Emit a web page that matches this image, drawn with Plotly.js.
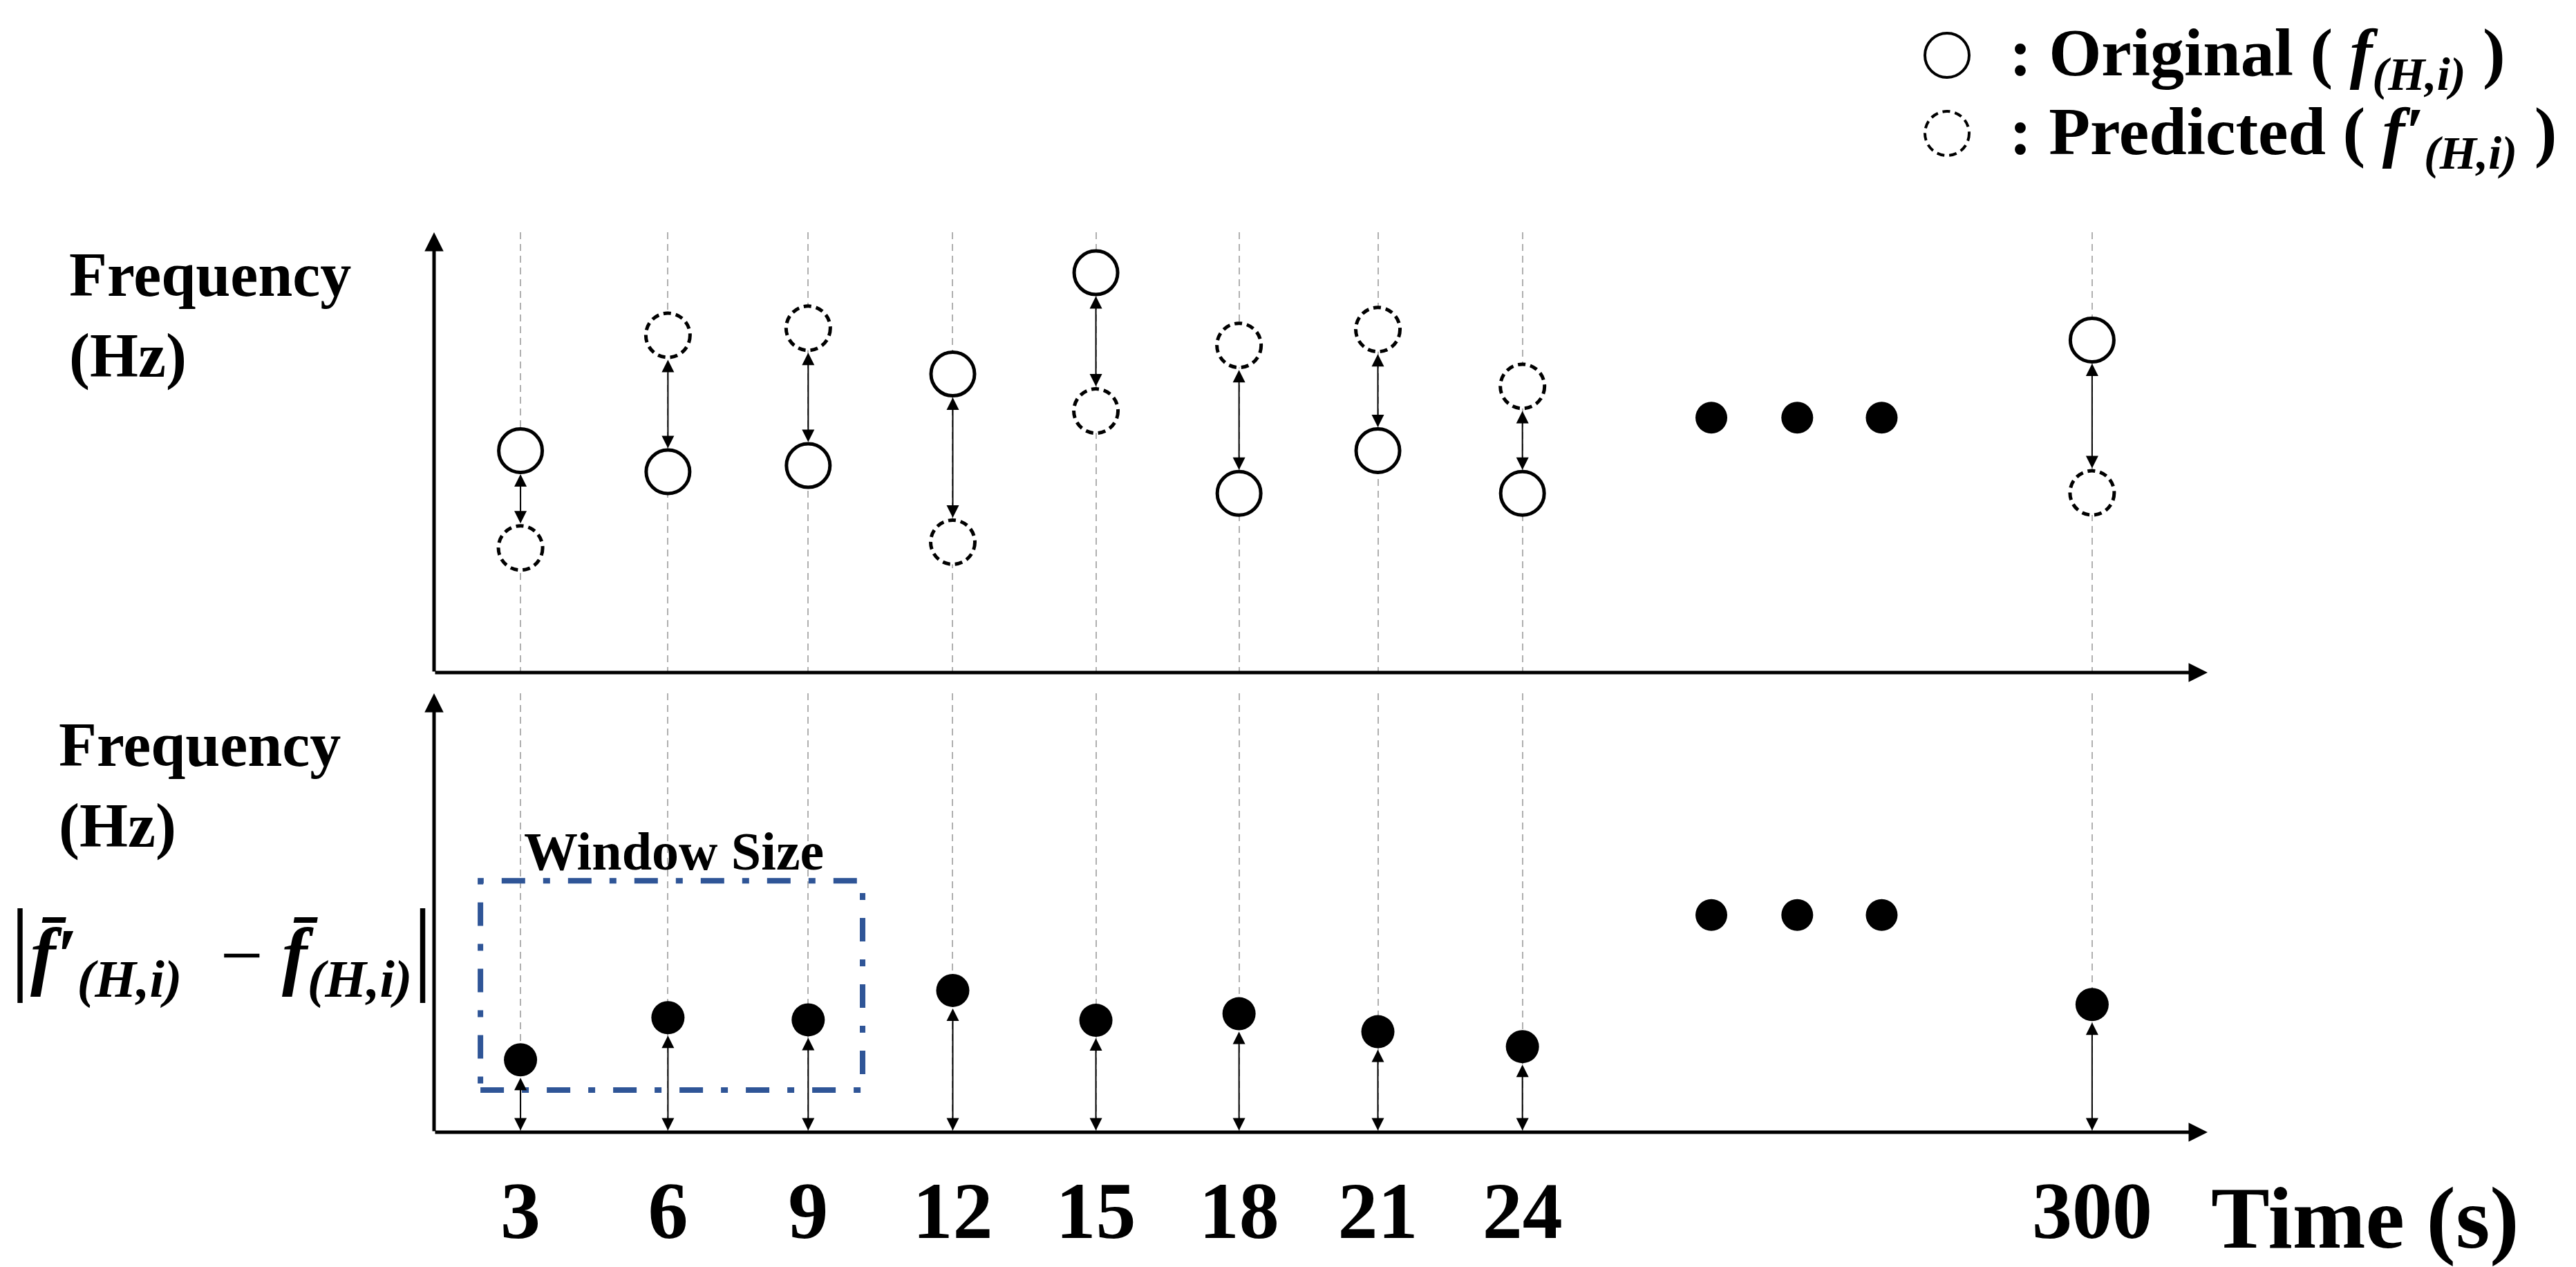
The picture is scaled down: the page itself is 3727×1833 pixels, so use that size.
<!DOCTYPE html>
<html><head><meta charset="utf-8">
<script src="https://cdn.plot.ly/plotly-3.0.1.min.js"></script>
<style>html,body{margin:0;padding:0;background:#fff}</style>
</head><body><div id="chart" style="width:3727px;height:1833px"></div>
<script>
// ---- data ----
const timeLabels     = ['3','6','9','12','15','18','21','24','300'];
const originalFreq   = [50.4, 45.6, 47.0, 67.8, 90.8, 40.7, 50.4, 40.7, 75.5];
const predictedFreq  = [28.3, 76.6, 78.2, 29.6, 59.4, 74.3, 77.9, 65.0, 40.8];
const absDiffMean    = [16.5, 26.1, 25.6, 32.3, 25.5, 27.0, 22.9, 19.5, 29.1];
const ellipsisTop    = [57.9, 57.9, 57.9];
const ellipsisBottom = [49.5, 49.5, 49.5];

// ---- layout helpers (positions, not data) ----
const slotPos = [0, 1.03, 2.01, 3.02, 4.02, 5.02, 5.99, 7.0, 10.98];   // horizontal slots of the time labels
const ellipsisSlots = [8.32, 8.92, 9.51];
const xMin = -0.604, xMax = 11.787, yMax = 100;
const W = 3727, H = 1833, L = 628, R = 533, T = 336, B = 195;
const pw = W - L - R, ph = H - T - B;
const px = v => (v - L) / pw;
const py = v => (H - B - v) / ph;
const FONT = 'Liberation Serif, Times New Roman, serif';

const traces = [
  { x: slotPos, y: predictedFreq, xaxis: 'x', yaxis: 'y', type: 'scatter', mode: 'markers',
    name: 'Predicted', marker: { symbol: 'circle', size: 64, color: '#ffffff', line: { width: 0 } } },
  { x: slotPos, y: originalFreq, xaxis: 'x', yaxis: 'y', type: 'scatter', mode: 'markers',
    name: 'Original', marker: { symbol: 'circle', size: 63, color: '#ffffff', line: { color: '#000', width: 5 } } },
  { x: ellipsisSlots, y: ellipsisTop, xaxis: 'x', yaxis: 'y', type: 'scatter', mode: 'markers',
    marker: { size: 46, color: '#000' } },
  { x: slotPos, y: absDiffMean, xaxis: 'x2', yaxis: 'y2', type: 'scatter', mode: 'markers',
    name: '|mean diff|', marker: { size: 48, color: '#000' } },
  { x: ellipsisSlots, y: ellipsisBottom, xaxis: 'x2', yaxis: 'y2', type: 'scatter', mode: 'markers',
    marker: { size: 46, color: '#000' } }
];

const shapes = [];
// dashed outlines for the predicted values
slotPos.forEach((s, i) => {
  shapes.push({ type: 'circle', xref: 'x', yref: 'y', xsizemode: 'pixel', ysizemode: 'pixel',
    xanchor: s, yanchor: predictedFreq[i], x0: -32, x1: 32, y0: -32, y1: 32,
    line: { color: '#000', width: 5, dash: '11px,7px' }, layer: 'above' });
});
// window size box
shapes.push({ type: 'rect', xref: 'x2', yref: 'y2', x0: slotPos[0] - 0.28, x1: slotPos[2] + 0.38,
  y0: 9.6, y1: 57.3, line: { color: '#2f5597', width: 8, dash: '34px,26px,10px,26px' }, layer: 'above' });
// legend symbols
shapes.push({ type: 'circle', xref: 'paper', yref: 'paper', xsizemode: 'pixel', ysizemode: 'pixel',
  xanchor: px(2817), yanchor: py(80), x0: -32, x1: 32, y0: -32, y1: 32, line: { color: '#000', width: 4 } });
shapes.push({ type: 'circle', xref: 'paper', yref: 'paper', xsizemode: 'pixel', ysizemode: 'pixel',
  xanchor: px(2817), yanchor: py(193), x0: -32, x1: 32, y0: -32, y1: 32, line: { color: '#000', width: 4, dash: '11px,7px' } });

const ann = [];
// axes with arrow heads
[['x', 'y'], ['x2', 'y2']].forEach(([xr, yr]) => {
  ann.push({ x: xMax, y: 0, ax: xMin, ay: 0, xref: xr, yref: yr, axref: xr, ayref: yr, text: '',
    showarrow: true, arrowhead: 2, arrowsize: 1.1, arrowwidth: 5, arrowcolor: '#000' });
  ann.push({ x: xMin, y: yMax, ax: xMin, ay: 0, xref: xr, yref: yr, axref: xr, ayref: yr, text: '',
    showarrow: true, arrowhead: 2, arrowsize: 1.1, arrowwidth: 5, arrowcolor: '#000' });
});
// double arrows: original <-> predicted, and mean difference <-> zero
slotPos.forEach((s, i) => {
  ann.push({ x: s, y: originalFreq[i], ax: s, ay: predictedFreq[i], xref: 'x', yref: 'y', axref: 'x', ayref: 'y',
    text: '', showarrow: true, arrowside: 'end+start', arrowhead: 2, startarrowhead: 2,
    arrowsize: 1.8, startarrowsize: 1.8, arrowwidth: 2, arrowcolor: '#000', standoff: 34, startstandoff: 34 });
  ann.push({ x: s, y: absDiffMean[i], ax: s, ay: 0, xref: 'x2', yref: 'y2', axref: 'x2', ayref: 'y2',
    text: '', showarrow: true, arrowside: 'end+start', arrowhead: 2, startarrowhead: 2,
    arrowsize: 1.8, startarrowsize: 1.8, arrowwidth: 2, arrowcolor: '#000', standoff: 26, startstandoff: 1 });
});
const txt = (text, x, y, size, xanchor) => ({ text, x, y, xref: 'paper', yref: 'paper',
  xanchor, yanchor: 'middle', showarrow: false, align: 'left', font: { family: FONT, size, color: '#000' } });
ann.push(txt('<b>Frequency</b><br><b>(Hz)</b>', px(98), py(456), 90, 'left'));
ann.push(txt('<b>Frequency</b><br><b>(Hz)</b>', px(83), py(1136), 90, 'left'));
ann.push(txt('<span style="font-size:150px">|</span><b><i>f̄′</i></b><sub><b><i>(H,i)</i></b></sub>  − <b><i>f̄</i></b><sub><b><i>(H,i)</i></b></sub><span style="font-size:150px">|</span>', px(12), py(1372), 110, 'left'));
ann.push(txt('<b>Window Size</b>', px(975), py(1231), 78, 'center'));
ann.push(txt('<b>Time (s)</b>', px(3197), py(1762), 127, 'left'));
ann.push(txt('<b>: Original ( </b><b><i>f</i></b><sub><b><i>(H,i)</i></b></sub><b> )</b>', px(2905), py(84), 98, 'left'));
ann.push(txt('<b>: Predicted ( </b><b><i>f′</i></b><sub><b><i>(H,i)</i></b></sub><b> )</b>', px(2905), py(197), 98, 'left'));

const gridX = { range: [xMin, xMax], tickmode: 'array', tickvals: slotPos, ticks: '', zeroline: false,
  showline: false, showgrid: true, gridcolor: '#b0b0b0', gridwidth: 2, griddash: '10px,7px' };
const gridY = { range: [0, yMax], showgrid: false, zeroline: false, showticklabels: false, ticks: '', showline: false };

const layout = {
  width: W, height: H, paper_bgcolor: '#fff', plot_bgcolor: '#fff', showlegend: false,
  margin: { l: L, r: R, t: T, b: B, pad: 0 },
  font: { family: FONT, color: '#000' },
  xaxis: Object.assign({}, gridX, { anchor: 'y', showticklabels: false }),
  xaxis2: Object.assign({}, gridX, { anchor: 'y2', ticktext: timeLabels, ticklabelstandoff: 36,
    tickfont: { family: FONT, size: 116, weight: 'bold', color: '#000' } }),
  yaxis: Object.assign({}, gridY, { domain: [(H - B - 973) / ph, 1], anchor: 'x' }),
  yaxis2: Object.assign({}, gridY, { domain: [0, (H - B - 1003) / ph], anchor: 'x2' }),
  shapes: shapes, annotations: ann
};
Plotly.newPlot('chart', traces, layout, { displayModeBar: false, staticPlot: true });
</script></body></html>
